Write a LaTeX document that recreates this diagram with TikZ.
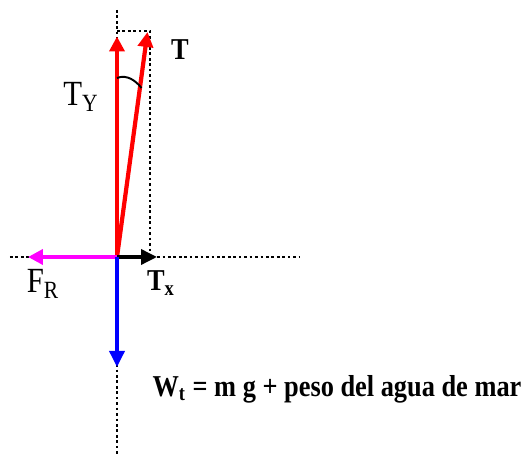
\documentclass[tikz,border=0pt]{standalone}
\usepackage{fontspec}
\setmainfont{Liberation Serif}
\usetikzlibrary{calc,positioning,arrows.meta}
\definecolor{fred}{RGB}{255,0,0}
\definecolor{fpink}{RGB}{255,0,255}
\definecolor{fblue}{RGB}{0,0,255}
\tikzset{
  axis/.style={
    line width=1.5pt,
    dash pattern=on 1.5pt off 1.6pt,
  },
  force/.style={
    line width=2.4pt,
    -{Triangle[length=3mm,width=3mm]},
  },
  thinforce/.style={
    line width=2pt,
    -{Triangle[length=3.2mm,width=3mm]},
  },
  lbl/.style={
    inner sep=0pt,
    font=\fontsize{17.5}{20}\selectfont,
    yscale=1.15,
    transform shape,
  },
  blbl/.style={
    inner sep=0pt,
    font=\fontsize{15}{18}\selectfont\bfseries,
    yscale=1.15,
    transform shape,
  },
}
\begin{document}
\begin{tikzpicture}
  \useasboundingbox (-2.34,-4.02) rectangle (8.2,5.14);
  % points
  \coordinate (O) at (0,0);
  \coordinate (axtop) at (0,4.94);
  \coordinate (axbot) at (0,-3.96);
  \coordinate (axleft) at (-2.14,0);
  \coordinate (axright) at (3.66,0);
  \coordinate (corner) at (0.66,4.52);
  \coordinate (cornerbot) at (0.66,0);
  \coordinate (TYtip) at (0,4.41);
  \coordinate (Ttip) at (0.61,4.5);
  \coordinate (Txtip) at (0.8,0);
  \coordinate (FRtip) at (-1.78,0);
  \coordinate (Wtip) at (0,-2.2);
  \coordinate (angA) at (0,3.58);
  \coordinate (angB) at (0.49,3.38);
  % dotted axes
  \draw[axis] (axtop) -- (axbot);
  \draw[axis] (axleft) -- (axright);
  \draw[axis] (TYtip |- corner) -- (corner) -- (cornerbot);
  % forces
  \draw[force, fred] (O) -- (TYtip);
  \draw[force, fred] (O) -- (Ttip);
  \draw[force, fpink] (O) -- (FRtip);
  \draw[thinforce, black] (O) -- (Txtip);
  \draw[thinforce, fblue] (O) -- (Wtip);
  % angle
  \draw[line width=1.1pt] (angA) .. controls (0.2,3.66) and (0.38,3.52) .. (angB);
  % labels
  \node[blbl] (T) at (1.26,4.14) {T};
  \node[lbl] (TY) at (-0.72,3.2) {T\textsubscript{Y}};
  \node[lbl] (FR) at (-1.48,-0.54) {F\textsubscript{R}};
  \node[blbl] (Tx) at (0.88,-0.52) {T\textsubscript{x}};
  \node[blbl] (W) at (4.4,-2.64) {W\textsubscript{t} = m g + peso del agua de mar};
\end{tikzpicture}
\end{document}
